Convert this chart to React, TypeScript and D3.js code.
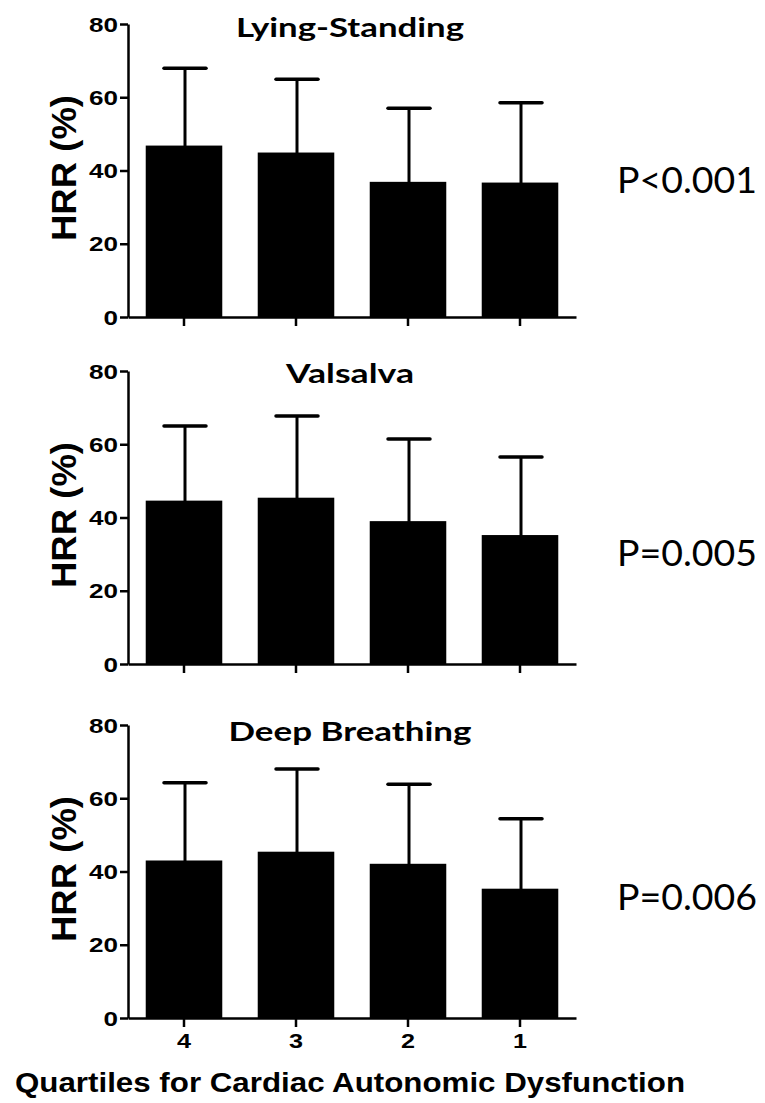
import * as d3 from 'd3';
import React, { useEffect, useRef } from 'react';

const quartiles = ['4', '3', '2', '1'];
const panelTitles = ['Lying-Standing', 'Valsalva', 'Deep Breathing'];
const pValues = ['P<0.001', 'P=0.005', 'P=0.006'];
const lyingStandingMean = [46.6, 44.7, 36.7, 36.5];
const lyingStandingSD = [21.3, 20.2, 20.3, 22.0];
const valsalvaMean = [44.4, 45.2, 38.8, 35.0];
const valsalvaSD = [20.6, 22.5, 22.6, 21.5];
const deepBreathingMean = [42.8, 45.2, 41.9, 35.1];
const deepBreathingSD = [21.4, 22.8, 21.9, 19.3];
const yTicks = [0, 20, 40, 60, 80];
const xTitle = 'Quartiles for Cardiac Autonomic Dysfunction';

const panels = [
  { title: panelTitles[0], p: pValues[0], mean: lyingStandingMean, sd: lyingStandingSD },
  { title: panelTitles[1], p: pValues[1], mean: valsalvaMean, sd: valsalvaSD },
  { title: panelTitles[2], p: pValues[2], mean: deepBreathingMean, sd: deepBreathingSD },
];

// layout
const W = 765;
const H = 1103;
const panelTop = [24, 371, 725];
const panelH = 293;
const axisLeft = 128;
const axisRight = 576;
const titleWidth = [228, 128, 243];
const titleDy = [13, 12, 16];
const pDy = [169, 195, 185];
const arial = 'Liberation Sans, Arial, sans-serif';

function App() {
  const svgRef = useRef<SVGSVGElement>(null);

  useEffect(() => {
    document.body.style.margin = '0';
    const svg = d3.select(svgRef.current).attr('width', W).attr('height', H);
    svg.selectAll('*').remove();

    const x = d3
      .scaleBand<string>()
      .domain(quartiles)
      .range([axisLeft, axisRight])
      .paddingInner(0.33)
      .paddingOuter(0.165);

    panels.forEach((panel, i) => {
      const top = panelTop[i];
      const y = d3.scaleLinear().domain([0, 80]).range([top + panelH, top]);
      const g = svg.append('g');

      // bars
      g.selectAll('rect')
        .data(panel.mean)
        .join('rect')
        .attr('x', (d, j) => x(quartiles[j])!)
        .attr('y', (d) => y(d))
        .attr('width', x.bandwidth())
        .attr('height', (d) => y(0) - y(d))
        .attr('fill', '#000')
        .attr('stroke', '#000')
        .attr('stroke-width', 1.5);

      // error bars (upper only)
      const cx = (j: number) => x(quartiles[j])! + x.bandwidth() / 2 + 1;
      g.selectAll('.stem')
        .data(panel.mean)
        .join('line')
        .attr('x1', (d, j) => cx(j))
        .attr('x2', (d, j) => cx(j))
        .attr('y1', (d) => y(d))
        .attr('y2', (d, j) => y(d + panel.sd[j]))
        .attr('stroke', '#000')
        .attr('stroke-width', 3);
      g.selectAll('.cap')
        .data(panel.mean)
        .join('line')
        .attr('x1', (d, j) => cx(j) - 21)
        .attr('x2', (d, j) => cx(j) + 21)
        .attr('y1', (d, j) => y(d + panel.sd[j]))
        .attr('y2', (d, j) => y(d + panel.sd[j]))
        .attr('stroke', '#000')
        .attr('stroke-width', 3.5)
        .attr('stroke-linecap', 'round');

      // y axis
      const yAxis = g
        .append('g')
        .attr('transform', `translate(${axisLeft},0)`)
        .call(d3.axisLeft(y).tickValues(yTicks).tickSize(8).tickSizeOuter(0).tickPadding(2));
      yAxis.select('.domain').attr('stroke-width', 2.5);
      yAxis.selectAll('.tick line').attr('stroke-width', 2.5);
      yAxis
        .selectAll<SVGTextElement, number>('.tick text')
        .attr('font-family', arial)
        .attr('font-weight', 'bold')
        .style('font-size', '20px')
        .attr('fill', '#000')
        .attr('dy', '0.36em')
        .attr('textLength', (d) => String(d).length * 14.5)
        .attr('lengthAdjust', 'spacingAndGlyphs');

      // x axis
      const xAxis = g
        .append('g')
        .attr('transform', `translate(0,${top + panelH})`)
        .call(d3.axisBottom(x).tickSize(9).tickSizeOuter(0).tickPadding(7));
      xAxis.select('.domain').attr('stroke-width', 2.5);
      xAxis.selectAll('.tick line').attr('stroke-width', 2.5);
      xAxis
        .selectAll('.tick text')
        .attr('font-family', arial)
        .attr('font-weight', 'bold')
        .style('font-size', '20px')
        .attr('fill', '#000')
        .attr('textLength', 14)
        .attr('lengthAdjust', 'spacingAndGlyphs')
        .attr('opacity', i === panels.length - 1 ? 1 : 0);

      // y title
      g.append('text')
        .attr('transform', `translate(76,${top + 144}) rotate(-90)`)
        .attr('text-anchor', 'middle')
        .attr('font-family', arial)
        .attr('font-weight', 'bold')
        .attr('font-size', 35)
        .attr('textLength', 146)
        .attr('lengthAdjust', 'spacingAndGlyphs')
        .text('HRR (%)');

      // panel title
      g.append('text')
        .attr('x', 350)
        .attr('y', top + titleDy[i])
        .attr('text-anchor', 'middle')
        .attr('font-family', 'Lato, sans-serif')
        .attr('font-weight', 'bold')
        .attr('font-size', 27)
        .attr('textLength', titleWidth[i])
        .attr('lengthAdjust', 'spacingAndGlyphs')
        .text(panel.title);

      // p value
      g.append('text')
        .attr('x', 617)
        .attr('y', top + pDy[i])
        .attr('font-family', 'Lato, sans-serif')
        .attr('font-size', 36)
        .attr('textLength', 140)
        .attr('lengthAdjust', 'spacingAndGlyphs')
        .text(panel.p);
    });

    svg
      .append('text')
      .attr('x', 15)
      .attr('y', 1092)
      .attr('font-family', arial)
      .attr('font-weight', 'bold')
      .attr('font-size', 28)
      .attr('textLength', 670)
      .attr('lengthAdjust', 'spacingAndGlyphs')
      .text(xTitle);
  }, []);

  return (
    <div>
      <svg ref={svgRef} />
    </div>
  );
}

export default App;
